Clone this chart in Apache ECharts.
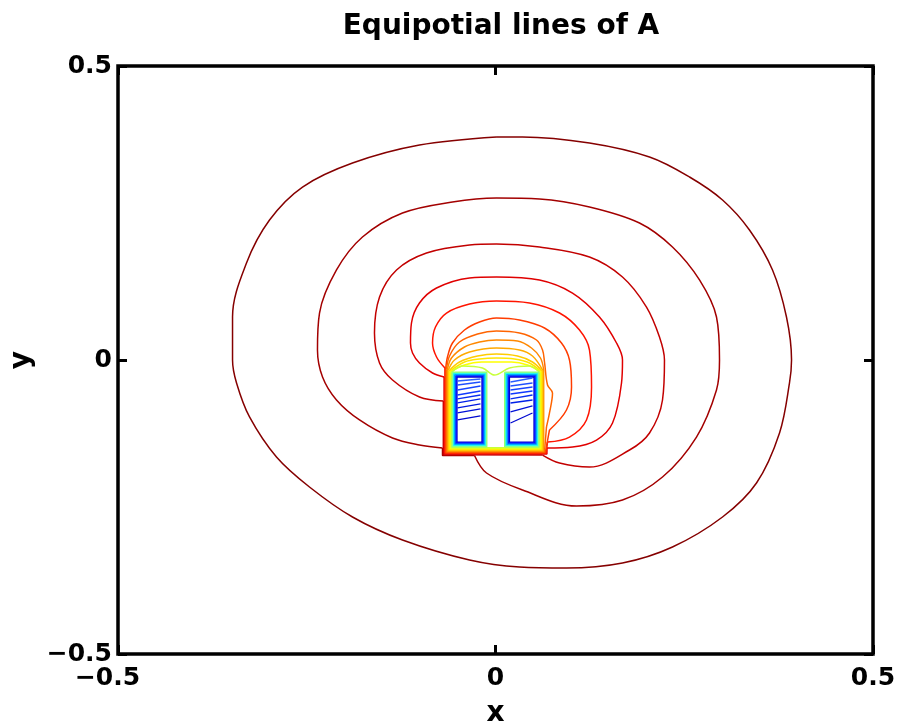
<!DOCTYPE html>
<html><head><meta charset="utf-8">
<script src="https://cdn.jsdelivr.net/npm/echarts@6/dist/echarts.min.js"></script>
<style>html,body{margin:0;padding:0;background:#fff}#c{width:901px;height:727px}</style>
</head><body><div id="c"></div>
<script>
// ---------- data (x, y in axis units) ----------
const xTicks = [-0.5, 0, 0.5];
const yTicks = [-0.5, 0, 0.5];

const contour1 = [[0.0013,0.3793],[-0.1007,0.3656],[-0.1894,0.3350],[-0.2556,0.2942],[-0.2993,0.2381],[-0.3298,0.1650],[-0.3483,0.0731],[-0.3483,0],[-0.3430,-0.0391],[-0.3258,-0.0969],[-0.2901,-0.1650],[-0.2464,-0.2160],[-0.1894,-0.2670],[-0.1232,-0.3061],[-0.0344,-0.3401],[0.0318,-0.3520],[0.0940,-0.3537],[0.1682,-0.3452],[0.2344,-0.3180],[0.3007,-0.2670],[0.3457,-0.2092],[0.3762,-0.1241],[0.3894,-0.0391],[0.3921,0],[0.3854,0.0731],[0.3669,0.1531],[0.3364,0.2211],[0.3007,0.2721],[0.2570,0.3112],[0.2040,0.3452],[0.1245,0.3690],[0.0358,0.3793]];
const contour2 = [[-0.0278,-0.1624],[-0.0119,-0.1922],[0.0358,-0.2211],[0.1073,-0.2483],[0.1682,-0.2381],[0.2212,-0.1990],[0.2662,-0.1310],[0.2927,-0.0510],[0.2967,0],[0.2927,0.0731],[0.2702,0.1361],[0.2344,0.1922],[0.1907,0.2330],[0.1245,0.2602],[0.0583,0.2738],[0.0013,0.2755],[-0.0570,0.2687],[-0.1232,0.2500],[-0.1762,0.2092],[-0.2106,0.1531],[-0.2331,0.0799],[-0.2358,0.0170],[-0.2291,-0.0289],[-0.2106,-0.0680],[-0.1801,-0.1020],[-0.1364,-0.1327],[-0.1007,-0.1446],[-0.0702,-0.1497],[-0.0702,-0.1624]];
const contour3 = [[-0.0691,-0.0697],[-0.1007,-0.0629],[-0.1364,-0.0340],[-0.1536,-0.0051],[-0.1603,0.0459],[-0.1536,0.1071],[-0.1311,0.1531],[-0.0914,0.1820],[-0.0344,0.1956],[0.0013,0.1973],[0.0583,0.1922],[0.1245,0.1752],[0.1682,0.1412],[0.2000,0.0901],[0.2172,0.0391],[0.2238,0],[0.2212,-0.0680],[0.2040,-0.1241],[0.1775,-0.1531],[0.1245,-0.1820],[0.0848,-0.1752],[0.0623,-0.1616],[-0.0691,-0.1612]];
const contour4 = [[-0.0681,-0.0289],[-0.0834,-0.0221],[-0.1007,-0.0051],[-0.1099,0.0119],[-0.1126,0.0289],[-0.1113,0.0629],[-0.1007,0.0969],[-0.0781,0.1224],[-0.0344,0.1395],[0.0013,0.1412],[0.0583,0.1361],[0.1020,0.1139],[0.1377,0.0731],[0.1603,0.0289],[0.1682,0],[0.1669,-0.0391],[0.1550,-0.1071],[0.1338,-0.1361],[0.1020,-0.1480],[0.0681,-0.1497],[0.0681,-0.1600],[-0.0681,-0.1600]];
const contour5 = [[-0.0670,-0.0136],[-0.0781,0.0051],[-0.0834,0.0289],[-0.0795,0.0561],[-0.0649,0.0799],[-0.0344,0.0952],[0.0013,0.1003],[0.0450,0.0969],[0.0848,0.0799],[0.1113,0.0510],[0.1245,0.0170],[0.1272,-0.0459],[0.1205,-0.1020],[0.0980,-0.1310],[0.0689,-0.1395],[0.0670,-0.1588],[-0.0670,-0.1588]];
const contour6 = [[-0.0660,-0.0153],[-0.0636,0.0051],[-0.0570,0.0289],[-0.0411,0.0510],[-0.0212,0.0646],[0.0013,0.0714],[0.0318,0.0680],[0.0649,0.0544],[0.0874,0.0289],[0.0980,0],[0.1007,-0.0459],[0.0940,-0.0850],[0.0715,-0.1190],[0.0660,-0.1577],[-0.0660,-0.1577]];
const contour7 = [[-0.0649,-0.0162],[-0.0609,0.0068],[-0.0477,0.0306],[-0.0238,0.0442],[0.0013,0.0493],[0.0318,0.0459],[0.0543,0.0340],[0.0623,0.0170],[0.0649,-0.0034],[0.0689,-0.0425],[0.0755,-0.0561],[0.0715,-0.0901],[0.0675,-0.1139],[0.0649,-0.1565],[-0.0649,-0.1565]];
const contour8 = [[-0.0638,-0.0170],[-0.0583,0.0034],[-0.0411,0.0221],[-0.0212,0.0306],[0.0013,0.0340],[0.0291,0.0323],[0.0477,0.0204],[0.0596,0.0034],[0.0638,-0.0170],[0.0638,-0.1553],[-0.0638,-0.1553]];
const contour9 = [[-0.0628,-0.0179],[-0.0543,0],[-0.0344,0.0136],[0.0013,0.0204],[0.0318,0.0170],[0.0490,0.0068],[0.0628,-0.0179],[0.0628,-0.1541],[-0.0628,-0.1541]];
const contour10 = [[-0.0617,-0.0187],[-0.0477,-0.0034],[-0.0238,0.0068],[0.0013,0.0102],[0.0291,0.0068],[0.0490,-0.0034],[0.0617,-0.0187],[0.0617,-0.1529],[-0.0617,-0.1529]];
const contour11 = [[-0.0607,-0.0196],[-0.0411,-0.0034],[-0.0212,0.0017],[0.0013,0.0034],[0.0252,0.0017],[0.0450,-0.0051],[0.0607,-0.0196],[0.0607,-0.1517],[-0.0607,-0.1517]];
const contour12 = [[-0.0596,-0.0204],[-0.0411,-0.0085],[-0.0185,-0.0034],[0.0013,-0.0034],[0.0212,-0.0034],[0.0424,-0.0085],[0.0596,-0.0204],[0.0596,-0.1505],[-0.0596,-0.1505]];
const contour13 = [[-0.0585,-0.0213],[-0.0437,-0.0102],[-0.0172,-0.0136],[-0.0013,-0.0255],[0.0185,-0.0136],[0.0450,-0.0102],[0.0585,-0.0213],[0.0585,-0.1493],[-0.0585,-0.1493]];

// rings round each coil window (inner -> outer)
const ringTop = [-0.0289,-0.0275,-0.0262,-0.0248,-0.0235,-0.0221,-0.0207];
const ringBottom = [-0.1395,-0.1409,-0.1422,-0.1436,-0.1449,-0.1463,-0.1477];
const leftCoilX0 = [-0.0510,-0.0521,-0.0531,-0.0542,-0.0552,-0.0563,-0.0574];
const leftCoilX1 = [-0.0179,-0.0168,-0.0158,-0.0147,-0.0137,-0.0126,-0.0115];
const rightCoilX0 = [0.0185,0.0174,0.0164,0.0153,0.0143,0.0132,0.0121];
const rightCoilX1 = [0.0510,0.0521,0.0531,0.0542,0.0552,0.0563,0.0574];

// blue lines inside the coil windows
const hatchLeftX = [-0.0503,-0.0199];
const hatchLeftYStart = [-0.0357,-0.0425,-0.0510,-0.0595,-0.0663,-0.0731,-0.0816,-0.0901,-0.1020];
const hatchLeftYEnd   = [-0.0323,-0.0374,-0.0442,-0.0527,-0.0595,-0.0663,-0.0748,-0.0833,-0.0952];
const hatchRightX = [0.0199,0.0490];
const hatchRightYStart = [-0.0374,-0.0442,-0.0510,-0.0578,-0.0663,-0.0731,-0.0884,-0.1071];
const hatchRightYEnd   = [-0.0306,-0.0391,-0.0459,-0.0527,-0.0595,-0.0680,-0.0782,-0.0901];

// ---------- styles ----------
const contours = [contour1,contour2,contour3,contour4,contour5,contour6,contour7,contour8,contour9,contour10,contour11,contour12,contour13];
// how many trailing points of each contour run along the coil band (drawn straight)
const bandCounts = [0,1,1,2,2,2,2,2,2,2,2,2,2];
const contourColors = ['#850000','#a30000','#c20000','#e00000','#ff1400','#ff3c00','#ff6400','#ff8800','#ffaa00','#ffcc00','#ffe600','#ffff00','#c8ff38'];
const ringColors = ['#0000c8','#0000ff','#0040ff','#0088ff','#00ccff','#20ffe0','#90ff70'];
const hatchColorsLeft = ['#2a5cff','#2050ff','#1844ff','#1038ff','#082cf0','#0020e8','#0018e0','#0010d8','#0008d0'];
const hatchColorsRight = ['#2a5cff','#2050ff','#1844ff','#1038ff','#082cf0','#0020e8','#0010d8','#0008d0'];

const LW = 1.5;
function mk(data, color, smooth, w) {
  return {type:'line', data:data, symbol:'none', showSymbol:false, smooth:smooth||false,
          lineStyle:{color:color, width:w||LW}, silent:true, animation:false, clip:true};
}
const series = [];
contours.forEach((c,i)=>{
  const nb = bandCounts[i];
  if (nb === 0) {
    series.push(mk(c.concat([c[0]]), contourColors[i], 0.35));
  } else {
    const arc = c.slice(0, c.length - nb);
    const band = c.slice(c.length - nb - 1).concat([c[0]]);
    series.push(mk(arc, contourColors[i], 0.35));
    series.push(mk(band, contourColors[i], false));
  }
});
for (let i=0;i<ringTop.length;i++){
  [[leftCoilX0,leftCoilX1],[rightCoilX0,rightCoilX1]].forEach(([a,b])=>{
    series.push(mk([[a[i],ringTop[i]],[b[i],ringTop[i]],[b[i],ringBottom[i]],[a[i],ringBottom[i]],[a[i],ringTop[i]]], ringColors[i], false, 1.3));
  });
}
hatchLeftYStart.forEach((y,i)=>series.push(mk([[hatchLeftX[0],y],[hatchLeftX[1],hatchLeftYEnd[i]]], hatchColorsLeft[i], false, 1.3)));
hatchRightYStart.forEach((y,i)=>series.push(mk([[hatchRightX[0],y],[hatchRightX[1],hatchRightYEnd[i]]], hatchColorsRight[i], false, 1.3)));

const FONT = 'DejaVu Sans';
const fmt = v => v < 0 ? '\u2212' + Math.abs(v) : String(v);
const tickStyle = {show:true, inside:true, length:9, lineStyle:{color:'#000', width:3}};
const noLine = {show:false, onZero:false};

const chart = echarts.init(document.getElementById('c'), null, {renderer:'canvas'});
chart.setOption({
  animation:false,
  backgroundColor:'#fff',
  title:{text:'Equipotial lines of A', left:496, top:8, textAlign:'center',
         textStyle:{fontFamily:FONT, fontWeight:'bold', fontSize:28, color:'#000'}},
  grid:{left:118, right:28, top:66, bottom:73, containLabel:false, outerBoundsMode:'none',
        show:true, borderColor:'#000', borderWidth:3.5, backgroundColor:'transparent'},
  xAxis:[
    {type:'value', min:xTicks[0], max:xTicks[xTicks.length-1], interval:0.5, position:'bottom',
     axisLine:noLine, axisTick:tickStyle, splitLine:{show:false},
     name:'x', nameLocation:'middle', nameGap:46,
     nameTextStyle:{fontFamily:FONT, fontWeight:'bold', fontSize:28, color:'#000'},
     axisLabel:{margin:12, fontFamily:FONT, fontWeight:'bold', fontSize:25, color:'#000',
       formatter: v => v < 0 ? '{n|' + fmt(v) + '}' : fmt(v),
       rich:{n:{fontFamily:FONT, fontWeight:'bold', fontSize:25, color:'#000', padding:[0,21,0,0]}}}},
    {type:'value', min:xTicks[0], max:xTicks[xTicks.length-1], interval:0.5, position:'top',
     axisLine:noLine, axisTick:tickStyle, splitLine:{show:false}, axisLabel:{show:false}}
  ],
  yAxis:[
    {type:'value', min:yTicks[0], max:yTicks[yTicks.length-1], interval:0.5, position:'left',
     axisLine:noLine, axisTick:tickStyle, splitLine:{show:false},
     name:'y', nameLocation:'middle', nameGap:65, nameRotate:90,
     nameTextStyle:{fontFamily:FONT, fontWeight:'bold', fontSize:28, color:'#000'},
     axisLabel:{margin:6, fontFamily:FONT, fontWeight:'bold', fontSize:25, color:'#000', formatter:fmt}},
    {type:'value', min:yTicks[0], max:yTicks[yTicks.length-1], interval:0.5, position:'right',
     axisLine:noLine, axisTick:tickStyle, splitLine:{show:false}, axisLabel:{show:false}}
  ],
  series: series
});
</script></body></html>
